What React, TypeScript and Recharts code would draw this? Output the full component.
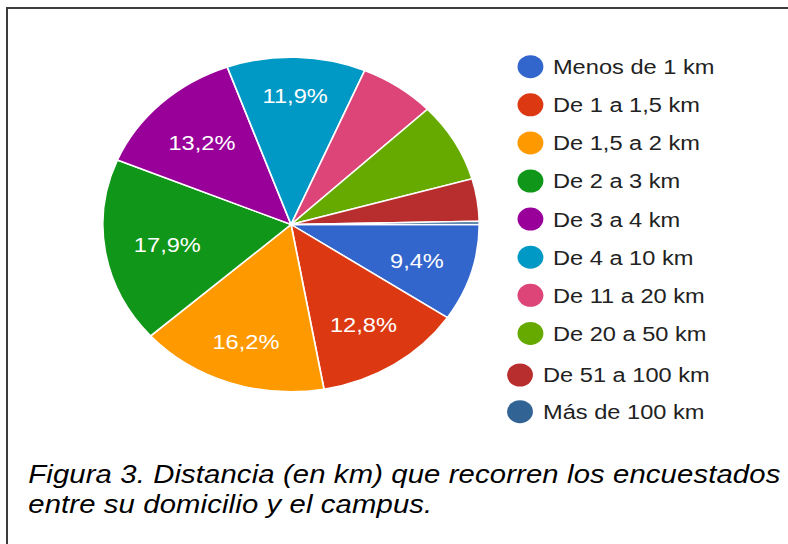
import { PieChart, Pie, Cell } from 'recharts';

// Distancia recorrida entre domicilio y campus (%)
const categories = [
  'Menos de 1 km',
  'De 1 a 1,5 km',
  'De 1,5 a 2 km',
  'De 2 a 3 km',
  'De 3 a 4 km',
  'De 4 a 10 km',
  'De 11 a 20 km',
  'De 20 a 50 km',
  'De 51 a 100 km',
  'Más de 100 km',
];
const percentages = [9.4, 12.8, 16.2, 17.9, 13.2, 11.9, 6.5, 7.7, 4.1, 0.3];
const COLORS = [
  '#3366cc', '#dc3912', '#ff9900', '#109618', '#990099',
  '#0099c6', '#dd4477', '#66aa00', '#b82e2e', '#316395',
];

const FONT = '"Liberation Sans", Arial, sans-serif';
const STRETCH = 1.125; // the source image is stretched horizontally
const RAD = Math.PI / 180;
const LABEL_SIZE = 21;

const pieData = categories.map((name, i) => ({ name, value: percentages[i] }));

// rough Arial advance widths, enough to size a slice label
const textWidth = (s: string) =>
  s.split('').reduce((w, c) => w + (c === '%' ? 0.889 : c === ',' ? 0.278 : 0.556), 0) * LABEL_SIZE;

function renderLabel(props: any) {
  const { cx, cy, midAngle, outerRadius, value } = props;
  if (value < 9) return null;
  const txt = `${value.toFixed(1).replace('.', ',')}%`;
  const ux = Math.cos(-midAngle * RAD);
  const uy = Math.sin(-midAngle * RAD);
  // push the label out until the far corner of its box reaches 0.85 r
  const hw = textWidth(txt) / 2;
  const hh = 8;
  const k = outerRadius * 0.85;
  const b = Math.abs(ux) * hw + Math.abs(uy) * hh;
  const d = -b + Math.sqrt(b * b - (hw * hw + hh * hh - k * k));
  return (
    <text
      x={cx + d * ux}
      y={cy + d * uy + 9}
      fill="#ffffff"
      textAnchor="middle"
      fontSize={LABEL_SIZE}
      fontFamily={FONT}
    >
      {txt}
    </text>
  );
}

function Legend() {
  return (
    <svg width={260} height={440} style={{ position: 'absolute', left: 440, top: 0 }}>
      {categories.map((name, i) => {
        // last two rows sit slightly left and lower in the original
        const shifted = i >= 8;
        const cy = shifted ? 366 + (i - 8) * 36.7 : 57.7 + i * 38.1;
        const cx = (shifted ? 455.1 : 464.4) - 440;
        const tx = (shifted ? 475.6 : 484.4) - 440;
        return (
          <g key={name}>
            <circle cx={cx} cy={cy} r={11.5} fill={COLORS[i]} />
            <text x={tx} y={cy + 7.5} fontSize={21} fontFamily={FONT} fill="#222">
              {name}
            </text>
          </g>
        );
      })}
    </svg>
  );
}

export default function App() {
  return (
    <div style={{ position: 'relative', width: 788, height: 544, overflow: 'hidden', background: '#fff' }}>
      <style>{'body { margin: 0; }'}</style>
      {/* frame: only top and left edges are visible in the source */}
      <div style={{ position: 'absolute', left: 6, top: 7, width: 782, height: 2, background: '#3c3c3c' }} />
      <div style={{ position: 'absolute', left: 6, top: 7, width: 2, height: 537, background: '#3c3c3c' }} />
      <div
        style={{
          position: 'absolute',
          left: 8,
          top: 9,
          width: 693,
          height: 535,
          transform: `scaleX(${STRETCH})`,
          transformOrigin: '0 0',
        }}
      >
        <PieChart width={440} height={440} margin={{ top: 0, right: 0, bottom: 0, left: 0 }}>
          <Pie
            data={pieData}
            dataKey="value"
            nameKey="name"
            cx={251.6}
            cy={215.5}
            outerRadius={167.3}
            startAngle={0}
            endAngle={-360}
            stroke="#ffffff"
            strokeWidth={1.5}
            label={renderLabel}
            labelLine={false}
            isAnimationActive={false}
          >
            {pieData.map((d, i) => (
              <Cell key={d.name} fill={COLORS[i]} />
            ))}
          </Pie>
        </PieChart>
        <Legend />
        <div
          style={{
            position: 'absolute',
            left: 18,
            top: 450.3,
            fontFamily: FONT,
            fontStyle: 'italic',
            fontSize: 26,
            lineHeight: '30px',
            letterSpacing: 0.12,
            color: '#000',
            whiteSpace: 'nowrap',
          }}
        >
          Figura 3. Distancia (en km) que recorren los encuestados
          <br />
          entre su domicilio y el campus.
        </div>
      </div>
    </div>
  );
}
